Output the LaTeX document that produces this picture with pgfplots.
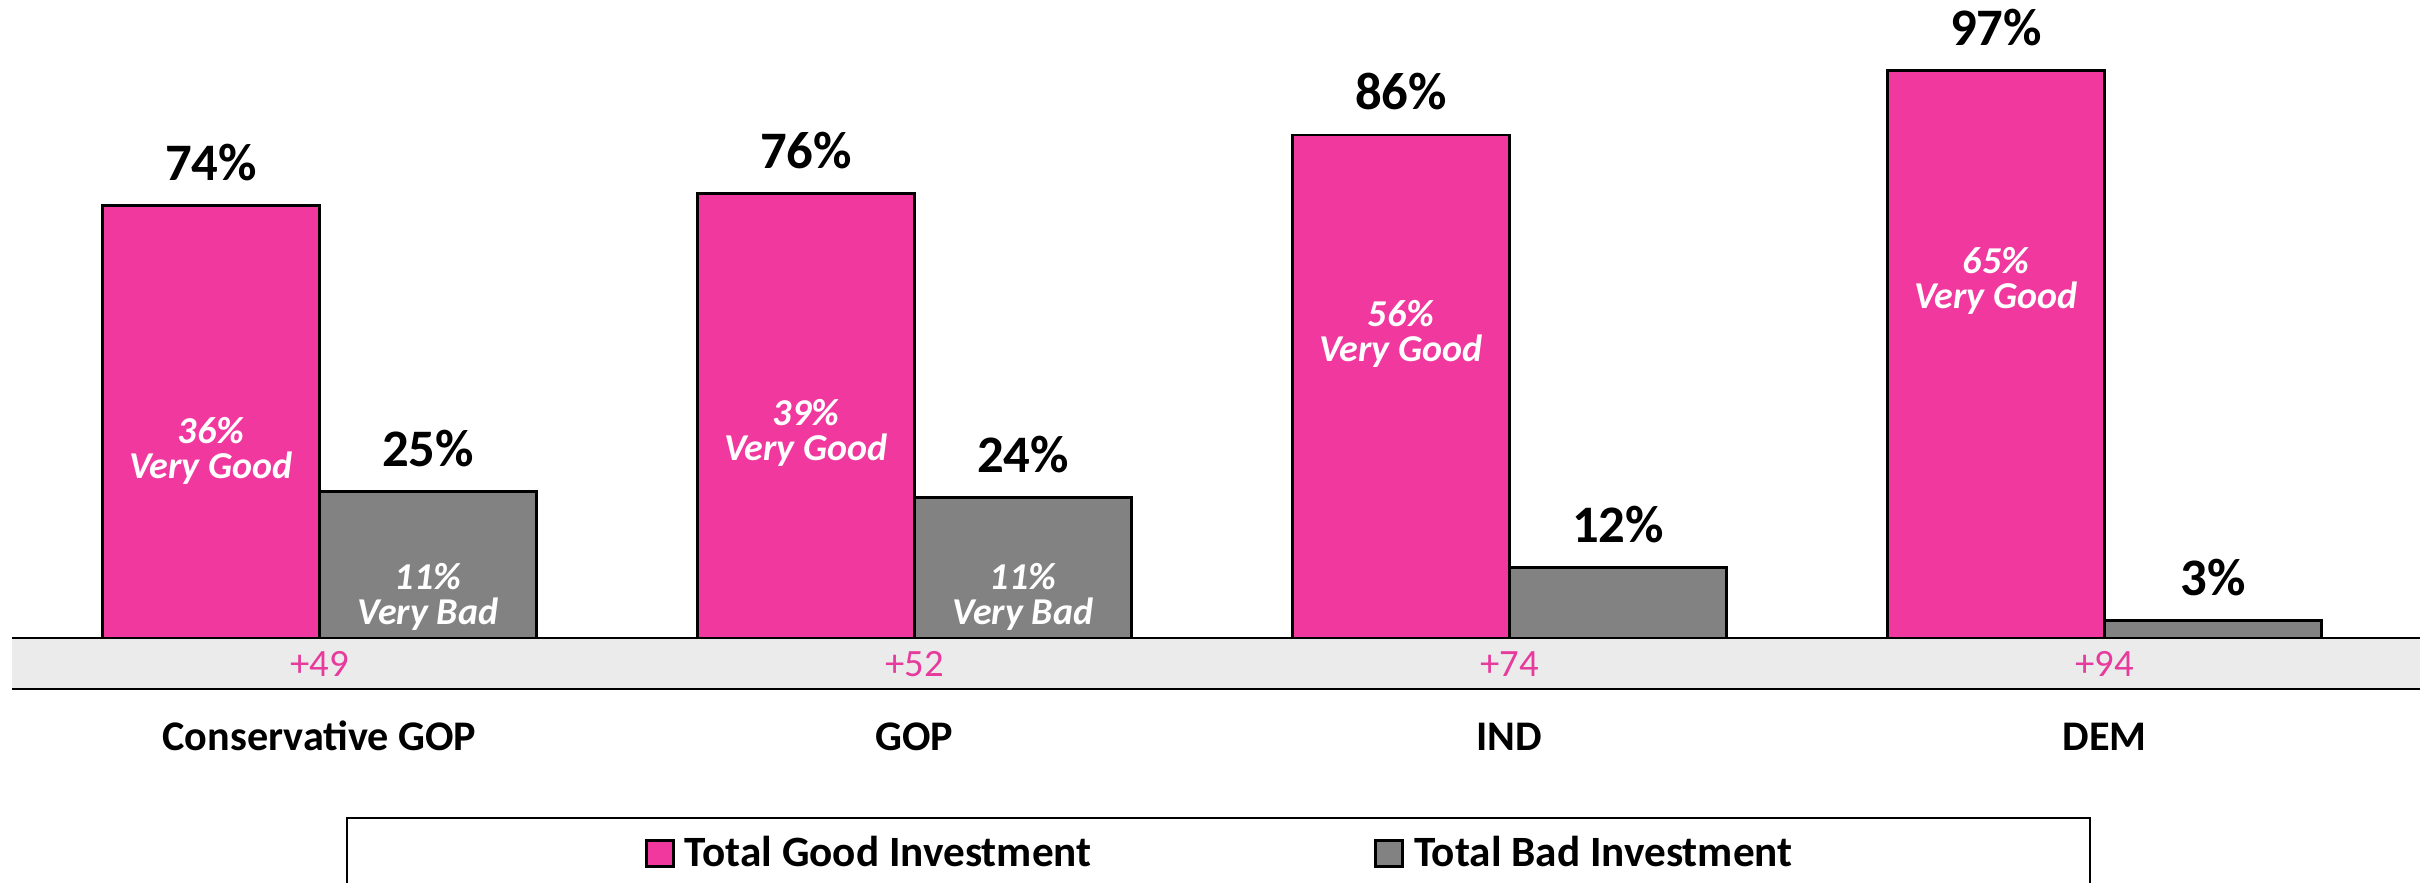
\documentclass[border=0pt]{standalone}
\usepackage{fontspec}
\setmainfont{Carlito}
\usepackage{pgfplots}
\pgfplotsset{compat=1.18}
\definecolor{pinkbar}{HTML}{F0389F}
\definecolor{graybar}{HTML}{828282}
\definecolor{band}{HTML}{EBEBEB}
\definecolor{pinktxt}{HTML}{E63B9C}
\begin{document}
\begin{tikzpicture}
\path[use as bounding box] (0,0) rectangle (242mm,88.2mm);
\begin{axis}[
 at={(1.2mm,19.3mm)}, anchor=south west,
 scale only axis, width=240.8mm, height=68.9mm,
 xmin=-0.5168, xmax=3.5303, ymin=-8.718, ymax=109.06,
 axis line style={draw=none},
 major tick length=0pt,
 ytick=\empty,
 xtick={0,1,2,3},
 xticklabels={Conservative GOP, GOP, IND, DEM},
 xticklabel style={font=\fontsize{12}{14}\selectfont\bfseries, anchor=base, yshift=-6.1mm},
 clip=false,
 legend columns=2,
 legend style={at={(0,0)}, anchor=north west, xshift=33.4mm, yshift=-12.8mm, draw=black, line width=0.6pt,
   inner xsep=29.8mm, inner ysep=1.8mm, font=\fontsize{12.3}{14}\selectfont\bfseries,
   nodes={inner sep=0pt},
   /tikz/every odd column/.append style={column sep=1mm},
   /tikz/every even column/.append style={column sep=28.3mm}},
 legend image code/.code={\draw[#1,line width=0.8pt] (0mm,-1.3mm) rectangle (2.7mm,1.3mm);},
 /pgf/number format/assume math mode=true,
]
\fill[band] (axis cs:-0.5168,-8.718) rectangle (axis cs:3.5303,0);
\draw[black, line width=0.8pt] (axis cs:-0.5168,0) -- (axis cs:3.5303,0);
\draw[black, line width=0.8pt] (axis cs:-0.5168,-8.718) -- (axis cs:3.5303,-8.718);

\addplot[ybar, bar width=21.7mm, bar shift=-10.85mm, fill=pinkbar, draw=black, line width=0.8pt,
  nodes near coords={\pgfmathprintnumber{\pgfplotspointmeta}\%},
  every node near coord/.append style={font=\fontsize{15}{18}\selectfont\bfseries, anchor=base, xshift=-10.85mm, yshift=2.5mm, text=black}]
  coordinates {(0,74) (1,76) (2,86) (3,97)};
\addlegendentry{Total Good Investment}
\addplot[ybar, bar width=21.7mm, bar shift=10.85mm, fill=graybar, draw=black, line width=0.8pt,
  nodes near coords={\pgfmathprintnumber{\pgfplotspointmeta}\%},
  every node near coord/.append style={font=\fontsize{15}{18}\selectfont\bfseries, anchor=base, xshift=10.85mm, yshift=2.5mm, text=black}]
  coordinates {(0,25) (1,24) (2,12) (3,3)};
\addlegendentry{Total Bad Investment}

\tikzset{inlab/.style={font=\fontsize{10.8}{10}\selectfont\bfseries\itshape, text=white, align=center, anchor=north, inner sep=0pt, yshift=1.1mm}}
\node[inlab] at (axis cs:-0.1824,36) {36\%\\Very Good};
\node[inlab] at (axis cs:0.8176,39) {39\%\\Very Good};
\node[inlab] at (axis cs:1.8176,56) {56\%\\Very Good};
\node[inlab] at (axis cs:2.8176,65) {65\%\\Very Good};
\node[inlab] at (axis cs:0.1824,11) {11\%\\Very Bad};
\node[inlab] at (axis cs:1.1824,11) {11\%\\Very Bad};

\tikzset{bandlab/.style={text=pinktxt, font=\fontsize{11}{13}\selectfont, anchor=center}}
\node[bandlab] at (axis cs:0,-4.44) {+49};
\node[bandlab] at (axis cs:1,-4.44) {+52};
\node[bandlab] at (axis cs:2,-4.44) {+74};
\node[bandlab] at (axis cs:3,-4.44) {+94};
\end{axis}
\end{tikzpicture}
\end{document}
